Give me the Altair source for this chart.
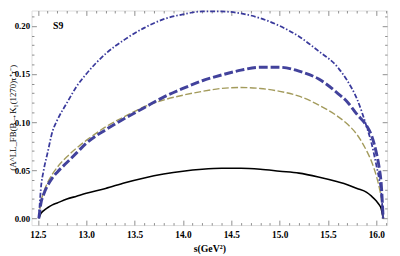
import altair as alt
import pandas as pd

s_vals = [12.51, 12.53, 12.56, 12.6, 12.65, 12.7, 12.8, 12.9, 13.0, 13.2, 13.4, 13.6,
          13.8, 14.0, 14.2, 14.4, 14.6, 14.8, 15.0, 15.2, 15.4, 15.6, 15.7, 15.8,
          15.9, 15.95, 16.0, 16.03, 16.05, 16.07]

dashdot_vals = [0.0, 0.030, 0.050, 0.068, 0.090, 0.102, 0.120, 0.137, 0.150, 0.171, 0.186, 0.198,
                0.207, 0.212, 0.215, 0.215, 0.213, 0.208, 0.200, 0.189, 0.174, 0.157, 0.143, 0.124,
                0.095, 0.078, 0.055, 0.040, 0.027, 0.0]

thickdash_vals = [0.0, 0.015, 0.025, 0.034, 0.042, 0.048, 0.058, 0.068, 0.078, 0.092, 0.104, 0.115,
                  0.126, 0.135, 0.143, 0.149, 0.154, 0.157, 0.157, 0.153, 0.145, 0.130, 0.121, 0.108,
                  0.096, 0.086, 0.068, 0.052, 0.036, 0.0]

olive_vals = [0.0, 0.016, 0.027, 0.037, 0.046, 0.053, 0.064, 0.073, 0.081, 0.095, 0.106, 0.116,
              0.123, 0.128, 0.132, 0.135, 0.136, 0.135, 0.132, 0.127, 0.118, 0.106, 0.098, 0.087,
              0.070, 0.059, 0.044, 0.032, 0.021, 0.0]

solid_vals = [0.0, 0.005, 0.008, 0.011, 0.014, 0.016, 0.020, 0.023, 0.026, 0.031, 0.037, 0.042,
              0.046, 0.049, 0.051, 0.052, 0.052, 0.051, 0.049, 0.047, 0.043, 0.038, 0.035, 0.031,
              0.027, 0.023, 0.018, 0.014, 0.010, 0.0]

x_major = [12.5, 13.0, 13.5, 14.0, 14.5, 15.0, 15.5, 16.0]
x_all_ticks = [12.5, 12.6, 12.7, 12.8, 12.9, 13.0, 13.1, 13.2, 13.3, 13.4, 13.5, 13.6, 13.7,
               13.8, 13.9, 14.0, 14.1, 14.2, 14.3, 14.4, 14.5, 14.6, 14.7, 14.8, 14.9, 15.0,
               15.1, 15.2, 15.3, 15.4, 15.5, 15.6, 15.7, 15.8, 15.9, 16.0, 16.1]
y_major = [0.0, 0.05, 0.10, 0.15, 0.20]
y_all_ticks = [0.0, 0.01, 0.02, 0.03, 0.04, 0.05, 0.06, 0.07, 0.08, 0.09, 0.10, 0.11, 0.12,
               0.13, 0.14, 0.15, 0.16, 0.17, 0.18, 0.19, 0.20, 0.21]

label_text = ["S9"]
label_s = [12.71]
label_y = [0.200]
y_title = "(A^LL_FB(B→K₁(1270)τ⁺τ⁻)"
x_title = "s(GeV²)"

W, H = 363, 219
X_DOMAIN = [12.434, 16.111]
Y_DOMAIN = [-0.007, 0.216]
FRAME = "#8c8c8c"
SERIF = "Liberation Serif"

x_scale = alt.Scale(domain=X_DOMAIN, nice=False, zero=False)
y_scale = alt.Scale(domain=Y_DOMAIN, nice=False, zero=False)

x_tick_size = {"condition": {"test": "abs(datum.value*2 - round(datum.value*2)) < 0.01", "value": 5}, "value": 2.5}
y_tick_size = {"condition": {"test": "abs(datum.value*20 - round(datum.value*20)) < 0.01", "value": 5}, "value": 2.5}

def tick_axis(orient, offset, values, size):
    return alt.Axis(orient=orient, offset=offset, values=values, labels=False, domain=False,
                    ticks=True, tickSize=size, tickColor=FRAME, tickWidth=1, title=None, grid=False)

x_label_axis = alt.Axis(orient="bottom", values=x_major, format=".1f", ticks=False, domain=False,
                        labelFont=SERIF, labelFontSize=9.5, labelFontWeight="bold", labelColor="black",
                        labelPadding=5, title=x_title, titleFont=SERIF, titleFontSize=10,
                        titleFontWeight="bold", titleColor="black", titlePadding=4, grid=False)
y_label_axis = alt.Axis(orient="left", values=y_major, format=".2f", ticks=False, domain=False,
                        labelFont=SERIF, labelFontSize=9, labelFontWeight="bold", labelColor="black",
                        labelPadding=2, title=None, grid=False)

def curve(vals, color, width, dash, xaxis, yaxis):
    df = pd.DataFrame({"s": s_vals, "v": vals})
    mark_args = dict(color=color, strokeWidth=width, interpolate="monotone")
    if dash:
        mark_args["strokeDash"] = dash
    return alt.Chart(df).mark_line(**mark_args).encode(
        x=alt.X("s:Q", scale=x_scale, axis=xaxis),
        y=alt.Y("v:Q", scale=y_scale, axis=yaxis),
    )

solid = curve(solid_vals, "black", 1.6, None, x_label_axis, y_label_axis)
olive = curve(olive_vals, "#a39b5c", 1.4, [7, 2.5],
              tick_axis("top", -H, x_all_ticks, x_tick_size),
              tick_axis("right", -W, y_all_ticks, y_tick_size))
thick = curve(thickdash_vals, "#42429c", 3.0, [9, 3],
              tick_axis("bottom", -H, x_all_ticks, x_tick_size),
              tick_axis("left", -W, y_all_ticks, y_tick_size))
dashdot = curve(dashdot_vals, "#3a3a9c", 1.8, [5, 2, 1.5, 2], None, None)

text_df = pd.DataFrame({"s": label_s, "v": label_y, "t": label_text})
label = alt.Chart(text_df).mark_text(font=SERIF, fontSize=10, fontWeight="bold", color="black").encode(
    x=alt.X("s:Q", scale=x_scale, axis=None),
    y=alt.Y("v:Q", scale=y_scale, axis=None),
    text="t:N",
)

ytitle = alt.Chart(pd.DataFrame({"t": [y_title]})).mark_text(
    font=SERIF, fontSize=9, color="black", angle=270, align="center", baseline="middle"
).encode(x=alt.value(-19), y=alt.value(H / 2), text="t:N")

chart = alt.layer(solid, olive, thick, dashdot, label, ytitle).resolve_scale(
    x="shared", y="shared"
).resolve_axis(
    x="independent", y="independent"
).properties(
    width=W, height=H,
    autosize=alt.AutoSizeParams(type="none"),
    padding={"left": 24, "top": 0, "right": 5, "bottom": 29},
).configure_view(
    stroke=FRAME, strokeWidth=1
).configure(background="white")

chart.save("out.html", embed_options={"renderer": "svg", "actions": False})
